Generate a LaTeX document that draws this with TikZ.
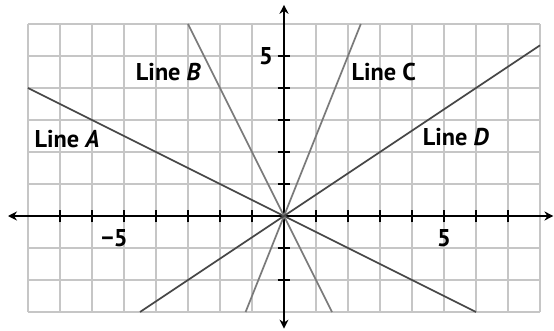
\documentclass[tikz,border=0pt]{standalone}
\usepackage{fontspec}
\setmainfont{PT Sans}
\usetikzlibrary{arrows.meta}

\begin{document}
\begin{tikzpicture}[
    x=0.5cm, y=0.5cm,
    font=\fontsize{10.8}{13}\selectfont\bfseries,
    grid_line/.style={color=gray!45, line width=0.7pt},
    axis/.style={{Stealth[length=4pt,width=4pt]}-{Stealth[length=4pt,width=4pt]}, line width=0.9pt},
    tick/.style={line width=0.6pt},
    dark_line/.style={color=black!72, line width=0.75pt},
    light_line/.style={color=black!52, line width=0.75pt},
    line_label/.style={inner sep=0pt},
    num_label/.style={inner sep=0pt}
]
\useasboundingbox (-8.875,-3.5625) rectangle (8.4375,6.75);

% GRID & AXES
\draw[grid_line, step=0.5cm] (-8,-3) grid (8,6);
\draw[axis] (-8.625,0) -- (8.42,0); % x-axis
\draw[axis] (0,-3.52) -- (0,6.6);   % y-axis
\foreach \x in {-7,...,-1,1,2,...,7}
    \draw[tick] (\x,-0.2) -- (\x,0.2);
\foreach \y in {-2,-1,1,2,...,5}
    \draw[tick] (-0.2,\y) -- (0.2,\y);

% LINES
\draw[dark_line] (-8,4) -- (6,-3);      % Line A
\draw[light_line] (-3,6) -- (1.5,-3);   % Line B
\draw[light_line] (-1.2,-3) -- (2.4,6); % Line C
\draw[dark_line] (-4.5,-3) -- (8,16/3); % Line D

% LABELS
\node[line_label] (lblA) at (-6.78,2.42) {Line \textit{A}};
\node[line_label] (lblB) at (-3.61,4.5) {Line \textit{B}};
\node[line_label] (lblC) at (3.12,4.5) {Line C};
\node[line_label] (lblD) at (5.375,2.47) {Line \textit{D}};
\node[num_label] (ytick5) at (-0.56,5) {5};
\node[num_label] (xtickm5) at (-5.3,-0.69) {−5};
\node[num_label] (xtick5) at (5,-0.69) {5};

\end{tikzpicture}
\end{document}
